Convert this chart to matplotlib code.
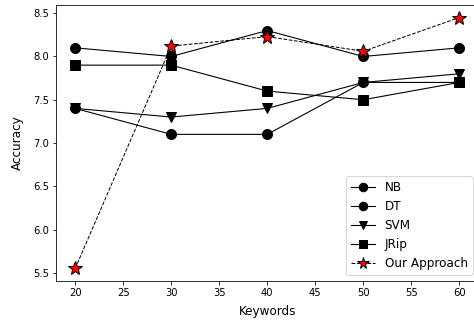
import matplotlib
matplotlib.use('Agg')
import matplotlib.pyplot as plt

# 数据
keywords = [20, 30, 40, 50, 60]
nb = [8.1, 8.0, 8.3, 8.0, 8.1]
dt = [7.4, 7.1, 7.1, 7.7, 7.7]
svm = [7.4, 7.3, 7.4, 7.7, 7.8]
jrip = [7.9, 7.9, 7.6, 7.5, 7.7]
ours = [5.55, 8.12, 8.23, 8.06, 8.45]

plt.rcParams['font.family'] = ['DejaVu Sans']
plt.rcParams['font.size'] = 10

fig = plt.figure(figsize=(474 / 72, 322 / 72), dpi=72)
ax = fig.add_axes([56 / 474, 41 / 322, 422.5 / 474, 276 / 322])

ax.plot(keywords, nb, color='black', marker='o', markersize=10, linewidth=1.1, label='NB')
ax.plot(keywords, dt, color='black', marker='o', markersize=10, linewidth=1.1, label='DT')
ax.plot(keywords, svm, color='black', marker='v', markersize=10, linewidth=1.1, label='SVM')
ax.plot(keywords, jrip, color='black', marker='s', markersize=10, linewidth=1.1, label='JRip')
ax.plot(keywords, ours, color='black', linestyle='--', marker='*', markersize=14,
        markerfacecolor='red', markeredgecolor='black', linewidth=1, label='Our Approach')

ax.set_xlabel('Keywords', fontsize=12, labelpad=7)
ax.set_ylabel('Accuracy', fontsize=12, labelpad=9)
ax.set_xlim(18, 62)
ax.set_ylim(5.405, 8.595)
ax.set_xticks([20, 25, 30, 35, 40, 45, 50, 55, 60])
ax.legend(loc='lower right', fontsize=12, markerscale=0.85)

plt.savefig('out.png', dpi=72)
